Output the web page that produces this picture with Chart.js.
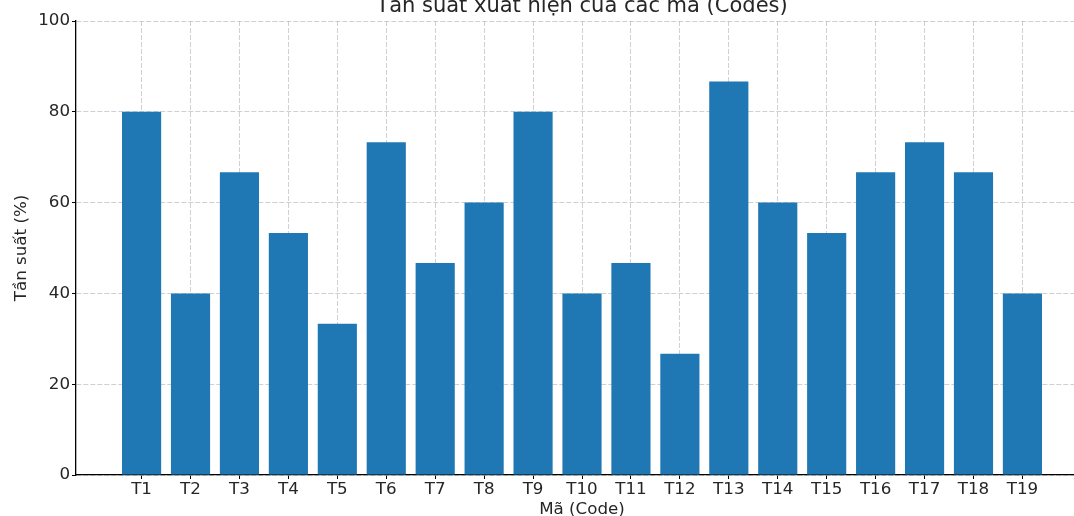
<!DOCTYPE html>
<html>
<head>
<meta charset="utf-8">
<script src="https://cdn.jsdelivr.net/npm/chart.js@4.4.1/dist/chart.umd.min.js"></script>
<style>
  html, body { margin: 0; padding: 0; overflow: hidden; background: #fff; width: 1074px; height: 516px; }
  #wrap { position: absolute; left: 0; top: -20px; width: 1090px; height: 536px; }
</style>
</head>
<body>
<div id="wrap"><canvas id="c" width="1090" height="536"></canvas></div>
<script>
const categories = ["T1","T2","T3","T4","T5","T6","T7","T8","T9","T10","T11","T12","T13","T14","T15","T16","T17","T18","T19"];
const frequencies = [80, 40, 66.7, 53.3, 33.3, 73.3, 46.7, 60, 80, 40, 46.7, 26.7, 86.7, 60, 53.3, 66.7, 73.3, 66.7, 40];
const yTicks = [0, 20, 40, 60, 80, 100];
const titleText = "Tần suất xuất hiện của các mã (Codes)";
const xTitle = "Mã (Code)";
const yTitle = "Tần suất (%)";

const FONT = "'DejaVu Sans', sans-serif";
const gridStyle = {
  display: true,
  offset: false,
  color: 'rgba(176,176,176,0.6)',
  lineWidth: 1,
  tickLength: 4,
  tickColor: '#000',
  tickWidth: 1,
  tickBorderDash: [],
  drawOnChartArea: true,
  drawTicks: true
};
const borderStyle = { display: true, color: '#000', width: 1.3, dash: [5, 2] };

new Chart(document.getElementById('c'), {
  type: 'bar',
  data: {
    datasets: [{
      data: frequencies.map((v, i) => ({ x: i, y: v })),
      backgroundColor: '#1f77b4',
      borderWidth: 0,
      barPercentage: 0.8,
      categoryPercentage: 1.0
    }]
  },
  options: {
    responsive: false,
    animation: false,
    devicePixelRatio: 1,
    layout: { padding: { left: 0, right: 2, top: 0, bottom: 0 } },
    plugins: {
      legend: { display: false },
      tooltip: { enabled: false },
      title: {
        display: true,
        fullSize: false,
        text: titleText,
        color: '#262626',
        font: { family: FONT, size: 21, weight: 'normal' },
        padding: { top: 14, bottom: 1.8 }
      }
    },
    scales: {
      x: {
        type: 'linear',
        offset: false,
        min: -1.34,
        max: 19.34,
        z: 1,
        afterBuildTicks: (s) => { s.ticks = categories.map((_, i) => ({ value: i })); },
        afterFit: (s) => { s.height = 41; },
        ticks: {
          autoSkip: false,
          maxRotation: 0,
          padding: 1,
          color: '#262626',
          font: { family: FONT, size: 16.7 },
          callback: (v) => categories[v]
        },
        grid: gridStyle,
        border: borderStyle,
        title: {
          display: true,
          text: xTitle,
          color: '#262626',
          font: { family: FONT, size: 16.7 },
          padding: { top: 4, bottom: -3.5 }
        }
      },
      y: {
        min: 0,
        max: 100,
        z: 1,
        afterBuildTicks: (s) => { s.ticks = yTicks.map(v => ({ value: v })); },
        afterFit: (s) => { s.width = 76; },
        ticks: {
          padding: 2,
          color: '#262626',
          font: { family: FONT, size: 16.7 }
        },
        grid: gridStyle,
        border: borderStyle,
        title: {
          display: true,
          text: yTitle,
          color: '#262626',
          font: { family: FONT, size: 16.7 },
          padding: { top: 12, bottom: 0 }
        }
      }
    }
  }
});
</script>
</body>
</html>
